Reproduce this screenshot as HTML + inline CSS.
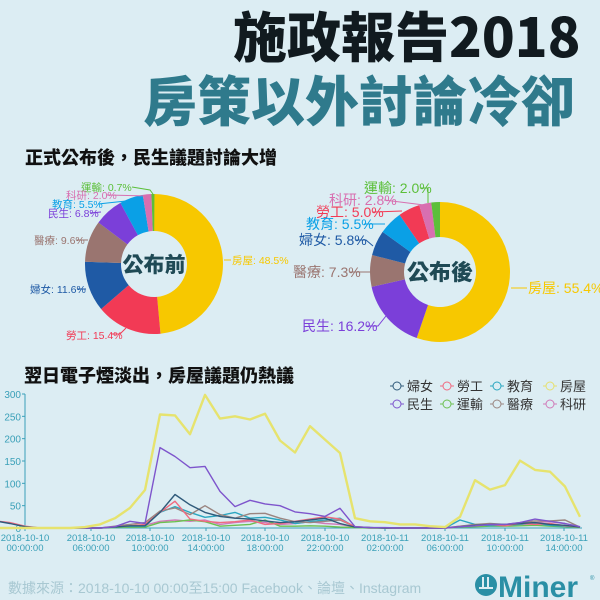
<!DOCTYPE html>
<html><head><meta charset="utf-8">
<style>
html,body{margin:0;padding:0;background:#dcedf3;}
body{width:600px;height:600px;overflow:hidden;position:relative;font-family:"Liberation Sans","Noto Sans CJK TC",sans-serif;}
.t1{position:absolute;left:233px;top:2px;font-size:54px;font-weight:900;color:#111a1f;line-height:64px;white-space:nowrap;font-family:"Noto Sans CJK TC",sans-serif;}
.t2{position:absolute;left:143px;top:66px;font-size:54px;font-weight:900;color:#2f7a8c;line-height:64px;white-space:nowrap;font-family:"Noto Sans CJK TC",sans-serif;}
.st{position:absolute;font-size:18px;font-weight:900;color:#111;font-family:"Noto Sans CJK TC",sans-serif;white-space:nowrap;}
svg{position:absolute;left:0;top:0;}
</style></head><body>
<div class="t1">施政報告2018</div>
<div class="t2">房策以外討論冷卻</div>
<div class="st" style="left:25px;top:144px;">正式公布後，民生議題討論大增</div>
<div class="st" style="left:24px;top:362px;">翌日電子煙淡出，房屋議題仍熱議</div>
<svg id="s" width="600" height="600" xmlns="http://www.w3.org/2000/svg" font-family="Liberation Sans, Noto Sans CJK TC, sans-serif">
<g id="d"></g>
<g id="l"></g>
<text x="8" y="593" font-size="14" fill="#a8c8d2">數據來源：2018-10-10 00:00至15:00 Facebook、論壇、Instagram</text>
<circle cx="486" cy="585" r="11" fill="#2a8fa5"/>
<rect x="482" y="577" width="2" height="12" fill="#dcedf3"/><rect x="487" y="577" width="2" height="12" fill="#dcedf3"/><rect x="479" y="587" width="14" height="2" fill="#dcedf3"/>
<text x="498" y="597" font-size="30" font-weight="bold" fill="#2a8fa5">Miner</text>
<text x="590" y="580" font-size="6" fill="#2a8fa5">®</text>
</svg>
<script>
var NS="http://www.w3.org/2000/svg";
function el(p,t,a,txt){var e=document.createElementNS(NS,t);for(var k in a)e.setAttribute(k,a[k]);if(txt!=null)e.textContent=txt;p.appendChild(e);return e;}
var C={房屋:"#f7c800",勞工:"#f23a55",婦女:"#1f5aa5",醫療:"#9a7570",民生:"#7b3fd9",教育:"#0aa0e6",科研:"#d86fb0",運輸:"#5cbf3a"};
var d=document.getElementById("d");
function donut(cx,cy,rx,ry,irx,iry,data,center,fs,labels){
 var a=0;
 data.forEach(function(it){
  var a0=a,a1=a+it[1]/100*2*Math.PI;a=a1;
  function p(rxx,ryy,t){return [cx+rxx*Math.sin(t),cy-ryy*Math.cos(t)];}
  var P0=p(rx,ry,a0),P1=p(rx,ry,a1),Q1=p(irx,iry,a1),Q0=p(irx,iry,a0);
  var lg=(a1-a0)>Math.PI?1:0;
  el(d,"path",{d:"M"+P0+"A"+rx+","+ry+" 0 "+lg+" 1 "+P1+"L"+Q1+"A"+irx+","+iry+" 0 "+lg+" 0 "+Q0+"Z",fill:C[it[0]]});
 });
 el(d,"text",{x:cx,y:cy+8,"text-anchor":"middle","font-size":fs,"font-weight":"900",fill:"#1f4a55","font-family":"Noto Sans CJK TC, sans-serif"},center);
 labels.forEach(function(L){
  el(d,"polyline",{points:L[3],fill:"none",stroke:C[L[0]],"stroke-width":1});
  el(d,"text",{x:L[1],y:L[2],"font-size":L[4],fill:C[L[0]]},L[0]+": "+L[5]);
 });
}
donut(154,264,69,70,33,33,[["房屋",48.5],["勞工",15.4],["婦女",11.6],["醫療",9.6],["民生",6.8],["教育",5.5],["科研",2.0],["運輸",0.7]],"公布前",21,[
 ["運輸",81,191,"132,187 150,190 153,194",10.5,"0.7%"],
 ["科研",66,199,"107,195 149,196",10.5,"2.0%"],
 ["教育",52,208,"98,204 126,201",10.5,"5.5%"],
 ["民生",48,217,"90,213 101,212",10.5,"6.8%"],
 ["醫療",34,244,"77,240 88,240",10.5,"9.6%"],
 ["婦女",30,293,"77,289 86,289",10.5,"11.6%"],
 ["勞工",66,339,"111,334 120,334 126,328",10.5,"15.4%"],
 ["房屋",232,264,"224,260 231,260",10.5,"48.5%"]]);
donut(440,272,70,70,36,35,[["房屋",55.4],["民生",16.2],["醫療",7.3],["婦女",5.8],["教育",5.5],["勞工",5.0],["科研",2.8],["運輸",2.0]],"公布後",22,[
 ["運輸",364,193,"421,188 428,188 428,203",14,"2.0%"],
 ["科研",329,205,"384,200 424,205",14,"2.8%"],
 ["勞工",316,217,"373,212 402,211",14,"5.0%"],
 ["教育",306,229,"364,224 385,224",14,"5.5%"],
 ["婦女",299,245,"356,240 366,240 373,246",14,"5.8%"],
 ["醫療",293,277,"350,272 370,272",14,"7.3%"],
 ["民生",302,331,"366,326 378,326 386,316",14,"16.2%"],
 ["房屋",528,293,"511,288 527,288",14,"55.4%"]]);
// line chart
var l=document.getElementById("l");
var X0=25,Y0=528,ys=134/300;
el(l,"line",{x1:X0,y1:Y0,x2:582,y2:Y0,stroke:"#3aa0b8","stroke-width":1});
el(l,"line",{x1:X0,y1:394,x2:X0,y2:Y0,stroke:"#3aa0b8","stroke-width":1});
for(var v=0;v<=300;v+=50){var y=Y0-v*ys;el(l,"line",{x1:X0-3,y1:y,x2:X0,y2:y,stroke:"#3aa0b8"});el(l,"text",{x:X0-4,y:y+4,"font-size":10,fill:"#3aa0b8","text-anchor":"end"},String(v));}
var tk=[[25,"2018-10-10","00:00:00"],[91,"2018-10-10","06:00:00"],[150,"2018-10-10","10:00:00"],[206,"2018-10-10","14:00:00"],[265,"2018-10-10","18:00:00"],[325,"2018-10-10","22:00:00"],[385,"2018-10-11","02:00:00"],[445,"2018-10-11","06:00:00"],[505,"2018-10-11","10:00:00"],[564,"2018-10-11","14:00:00"]];
tk.forEach(function(t){el(l,"line",{x1:t[0],y1:Y0,x2:t[0],y2:Y0+3,stroke:"#3aa0b8"});el(l,"text",{x:t[0],y:Y0+13,"font-size":9.5,fill:"#3aa0b8","text-anchor":"middle"},t[1]);el(l,"text",{x:t[0],y:Y0+23,"font-size":9.5,fill:"#3aa0b8","text-anchor":"middle"},t[2]);});
function xs(k){return -65+15*k;}
function ser(vals){var pts=[];for(var k=0;k<vals.length;k++){pts.push(xs(k).toFixed(1)+","+(Y0-vals[k]*ys).toFixed(1));}return pts.join(" ");}
var yellow=[0,0,0,0,0,0,0,0,0,0,2,8,22,45,85,254,252,210,298,245,250,243,256,196,169,228,198,168,22,15,13,8,8,4,2,25,107,86,96,151,130,126,93,25];
var data={
 "民生":[0,0,0,0,0,0,0,0,0,0,0,0,3,15,10,180,160,135,138,82,48,62,54,50,36,32,26,44,3,1,1,0,0,0,0,3,5,8,8,12,20,15,10,3],
 "婦女":[16,16,16,16,16,10,3,0,0,0,0,0,2,5,5,35,75,52,35,26,22,20,16,12,14,18,22,10,2,1,0,0,0,0,0,3,6,8,8,10,12,8,6,2],
 "勞工":[16,16,16,16,16,12,4,0,0,0,0,0,3,5,8,35,60,20,15,12,14,18,8,10,15,20,25,20,3,1,0,0,0,0,0,3,5,8,5,10,8,10,5,2],
 "醫療":[0,0,0,0,0,0,0,0,0,0,0,0,4,8,12,38,45,30,50,30,22,32,33,22,14,12,15,18,3,1,0,0,0,0,0,4,8,10,8,12,16,16,18,2],
 "教育":[0,0,0,0,0,0,0,0,0,0,0,0,2,4,4,35,48,35,24,28,35,22,24,18,10,14,18,22,2,1,0,0,0,0,0,18,8,5,6,8,10,6,4,2],
 "運輸":[0,0,0,0,0,0,0,0,0,0,0,0,1,2,2,12,14,18,14,4,6,8,18,4,4,5,4,2,1,0,0,0,0,0,0,2,3,4,4,5,6,4,3,1],
 "科研":[0,0,0,0,0,0,0,0,0,0,0,0,2,4,6,15,18,15,18,8,12,15,12,8,10,14,10,8,2,0,0,0,0,0,0,4,6,5,8,10,12,14,10,2]
};
var LC={婦女:"#2f5a7a",勞工:"#f06a80",教育:"#2aa6c0",房屋:"#e6e06e",民生:"#7e55cc",運輸:"#6cc050",醫療:"#9a8580",科研:"#d07ab8"};
var ord=["科研","運輸","教育","醫療","勞工","婦女","民生"];
ord.forEach(function(n){el(l,"polyline",{points:ser(data[n]),fill:"none",stroke:LC[n],"stroke-width":1.4,"stroke-linejoin":"round"});});
el(l,"polyline",{points:ser(yellow),fill:"none",stroke:"#e6e36e","stroke-width":2.4,"stroke-linejoin":"round"});
var lg=[["婦女",390,386],["勞工",440,386],["教育",490,386],["房屋",543,386],["民生",390,404],["運輸",440,404],["醫療",490,404],["科研",543,404]];
lg.forEach(function(g){var x=g[1],y=g[2];el(l,"line",{x1:x,y1:y,x2:x+14,y2:y,stroke:LC[g[0]],"stroke-width":1});el(l,"circle",{cx:x+7,cy:y,r:4,fill:"#dcedf3",stroke:LC[g[0]],"stroke-width":1});el(l,"text",{x:x+17,y:y+5,"font-size":13,fill:"#333"},g[0]);});
</script>
</body></html>
